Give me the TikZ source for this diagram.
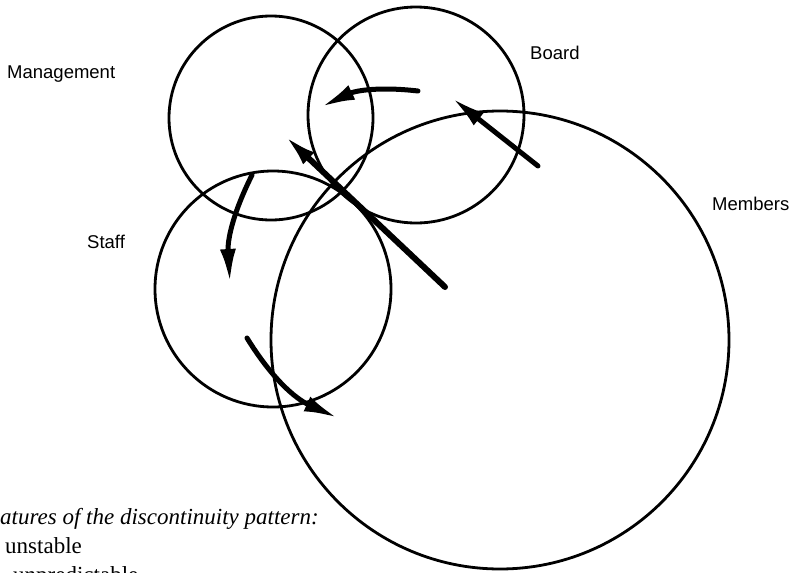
\documentclass[tikz,border=0pt]{standalone}
\usepackage{fontspec}
\setmainfont{Liberation Serif}
\newfontfamily\lblfont{Liberation Sans}
\usetikzlibrary{arrows.meta}

\begin{document}
\begin{tikzpicture}[
  x=1pt,y=-1pt,
  every node/.style={inner sep=0pt},
  ring/.style={circle,draw=black,line width=2.8pt,inner sep=0pt},
  arr/.style={-{Latex[length=34pt,width=16pt]},line width=5pt,line cap=round},
  lbl/.style={anchor=base west,font=\lblfont\fontsize{18.5}{22}\selectfont},
  note/.style={anchor=base west,font=\fontsize{23}{27}\selectfont}
]
\useasboundingbox[fill=white] (0,0) rectangle (796,573);
% ================= circles =================
\node[ring,minimum size=458pt] (members) at (500,340) {};
\node[ring,minimum size=236pt] (staff) at (273,289) {};
\node[ring,minimum size=204pt] (mgmt) at (271,118) {};
\node[ring,minimum size=216pt] (board) at (416,115) {};
% ================= labels =================
\node[lbl] (lmgmt) at (7,78) {Management};
\node[lbl] (lboard) at (530,59) {Board};
\node[lbl] (lstaff) at (87,248) {Staff};
\node[lbl] (lmembers) at (712,210) {Members};
% ================= arrows =================
\coordinate (b1) at (418,91);  \coordinate (b2) at (321,107);
\coordinate (m1) at (538,166); \coordinate (m2) at (452,98);
\coordinate (d1) at (445,287); \coordinate (d2) at (284,135);
\coordinate (s1) at (252,175); \coordinate (s2) at (230,283);
\coordinate (t1) at (247,338); \coordinate (t2) at (338,418);
\draw[arr] (b1) to[bend right=16] (b2);
\draw[arr] (m1) -- (m2);
\draw[arr,line width=6pt] (d1) -- (d2);
\draw[arr] (s1) to[bend right=15] (s2);
\draw[arr] (t1) to[bend right=17] (t2);
% ================= text =================
\node[note] (feat) at (0,524) {\itshape atures of the discontinuity pattern:};
\node[note] (unst) at (5,553) {unstable};
\node[note] (unpr) at (13,582) {unpredictable};
\end{tikzpicture}
\end{document}
